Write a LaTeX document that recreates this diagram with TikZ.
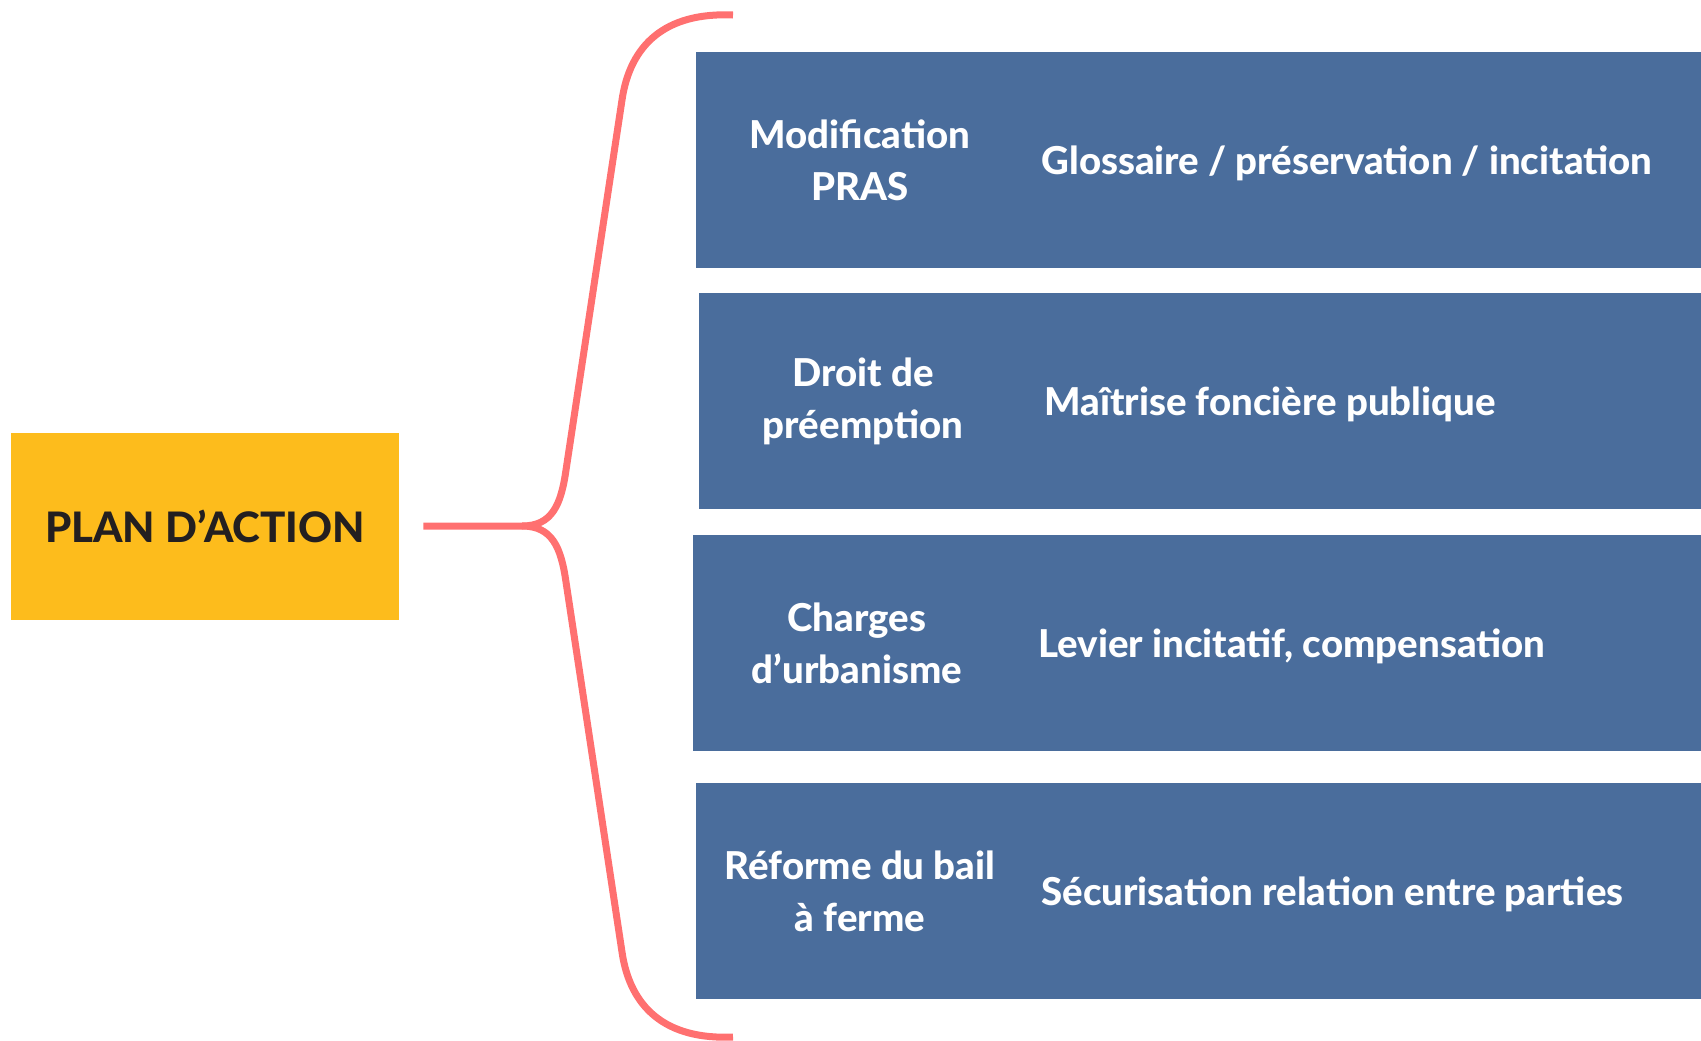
\documentclass[tikz,border=0pt]{standalone}
\usepackage{fontspec}
\IfFontExistsTF{Lato Heavy}
	{\setmainfont{Lato}[BoldFont={Lato Heavy}]}
	{\setmainfont{Lato}}
\usetikzlibrary{positioning}

\definecolor{planjaune}{RGB}{253,188,28}
\definecolor{mesurebleu}{RGB}{74,109,156}
\definecolor{accolade}{RGB}{255,112,112}
\definecolor{encre}{RGB}{35,31,32}

\tikzset{
	plan/.style={fill=planjaune, text=encre, inner sep=0pt,
		minimum width=194pt, minimum height=93.5pt,
		font=\bfseries\fontsize{21}{24}\selectfont},
	mesure/.style={fill=mesurebleu, inner sep=0pt, anchor=north west,
		minimum width=510pt, minimum height=108pt},
	titre/.style={text=white, align=center, inner sep=0pt,
		font=\bfseries\fontsize{19.2}{26}\selectfont},
	detail/.style={text=white, anchor=west, inner sep=0pt,
		font=\bfseries\fontsize{19.2}{26}\selectfont},
	brace/.style={draw=accolade, line width=3.5pt}
}

\begin{document}
\begin{tikzpicture}[x=0.5pt,y=-0.5pt]
	\useasboundingbox (0,0) rectangle (1701,1040);

	\node[plan] (plan) at (205,526) {PLAN D’ACTION};

	\node[mesure] (m1) at (696,52) {};
	\node[mesure] (m2) at (699,293) {};
	\node[mesure] (m3) at (693,535) {};
	\node[mesure] (m4) at (696,783) {};

	\node[titre] (t1) at ([xshift=82pt]m1.west) {Modification\\PRAS};
	\node[titre] (t2) at ([xshift=82pt]m2.west) {Droit de\\préemption};
	\node[titre] (t3) at ([xshift=82pt]m3.west) {Charges\\d’urbanisme};
	\node[titre] (t4) at ([xshift=82pt]m4.west) {Réforme du bail\\à ferme};

	\node[detail] (d1) at ([xshift=172.5pt,yshift=-1.5pt]m1.west) {Glossaire / préservation / incitation};
	\node[detail] (d2) at ([xshift=172.5pt,yshift=-1.5pt]m2.west) {Maîtrise foncière publique};
	\node[detail] (d3) at ([xshift=172.5pt,yshift=-1.5pt]m3.west) {Levier incitatif, compensation};
	\node[detail] (d4) at ([xshift=172.5pt,yshift=-1.5pt]m4.west) {Sécurisation relation entre parties};

	% accolade
	\coordinate (bras) at ([xshift=12pt]plan.east);
	\coordinate (pointe) at (522,526);
	\coordinate (haut) at (733,15);
	\coordinate (bas) at (733,1037);
	\draw[brace] (bras) -- (pointe) .. controls (552,526) and (561,505) .. (566,470)
		-- (622,100) .. controls (630,45) and (665,12) .. (haut);
	\draw[brace] (pointe) .. controls (552,526) and (561,547) .. (566,582)
		-- (622,952) .. controls (630,1007) and (665,1040) .. (bas);
\end{tikzpicture}
\end{document}
